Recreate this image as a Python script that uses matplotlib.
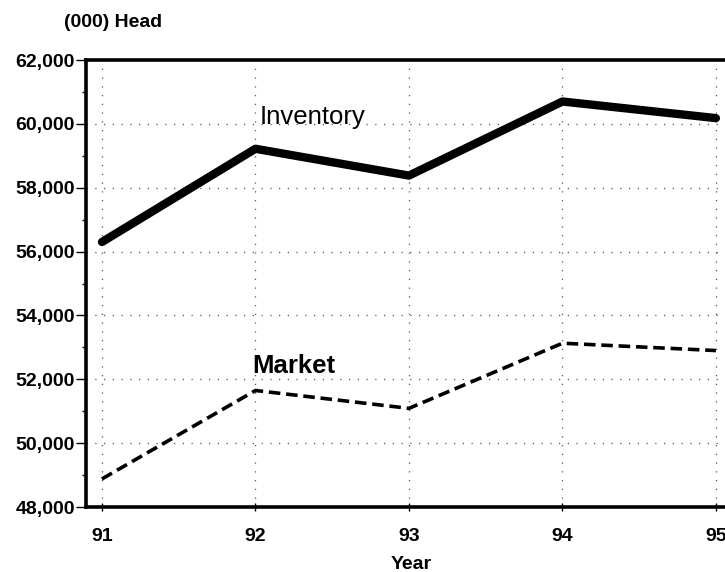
import numpy as np
import matplotlib
matplotlib.use('Agg')
import matplotlib.pyplot as plt
from matplotlib.ticker import FuncFormatter, MultipleLocator

plt.rcParams['font.family'] = ['Liberation Sans', 'DejaVu Sans']

# data
years = [91, 92, 93, 94, 95]
inventory = [56300, 59220, 58380, 60700, 60180]
market = [48880, 51650, 51090, 53130, 52900]
y_ticks = [48000, 50000, 52000, 54000, 56000, 58000, 60000, 62000]

fig = plt.figure(figsize=(7.25, 5.72), dpi=100)
ax = fig.add_axes([0.1186, 0.1136, 0.8814, 0.7815])

# grid first so lines sit on top
ax.grid(True, color='#555555', linestyle=(0, (1, 6)), linewidth=0.9)

ax.plot(years, inventory, color='black', linewidth=6, solid_capstyle='round',
        solid_joinstyle='round')
ax.plot(years, market, color='black', linewidth=2.6, linestyle=(0, (3.2, 1.6)))

ax.set_xlim(90.896, 95.059)
ax.set_ylim(48000, 62000)
ax.set_xticks(years)
ax.set_yticks(y_ticks)
ax.yaxis.set_minor_locator(MultipleLocator(1000))
ax.yaxis.set_major_formatter(FuncFormatter(lambda v, p: f'{int(v):,}'))

for s in ['left', 'top', 'bottom']:
    ax.spines[s].set_linewidth(2.6)
ax.spines['right'].set_visible(False)

ax.tick_params(axis='y', direction='out', length=7, width=1, pad=1)
ax.tick_params(axis='y', which='minor', direction='out', length=3, width=1)
ax.tick_params(axis='x', direction='inout', length=6, width=1, pad=12)
for lab in ax.get_xticklabels() + ax.get_yticklabels():
    lab.set_fontsize(14)
    lab.set_fontweight('bold')

# series labels
ax.text(92.03, 60000, 'Inventory', fontsize=18.5, ha='left', va='baseline')
ax.text(91.98, 52200, 'Market', fontsize=18.5, fontweight='bold', ha='left', va='baseline')

fig.text(0.0883, 0.9615, '(000) Head', fontsize=14, fontweight='bold', ha='left', va='center')
fig.text(0.567, 0.013, 'Year', fontsize=14, fontweight='bold', ha='center', va='center')

fig.savefig('out.png', dpi=100)
